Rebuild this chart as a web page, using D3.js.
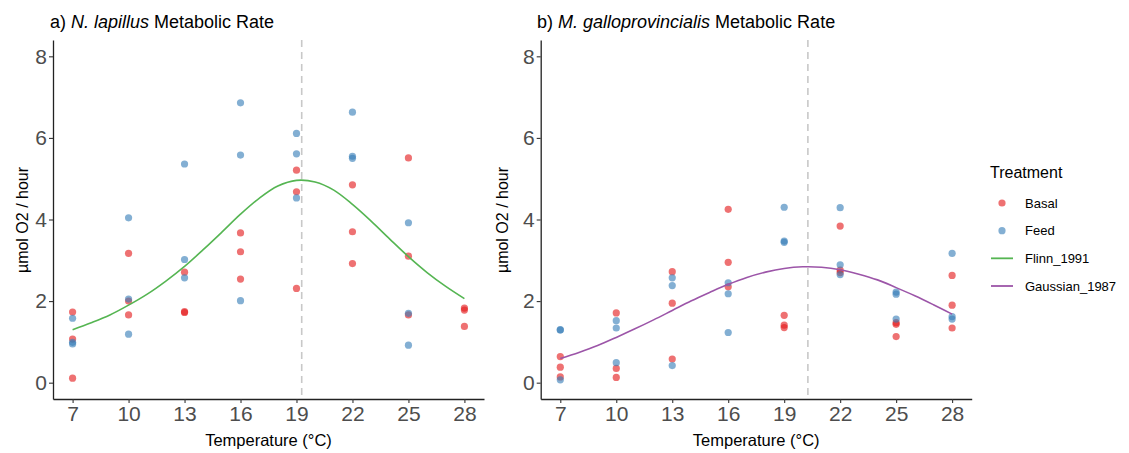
<!DOCTYPE html>
<html>
<head>
<meta charset="utf-8">
<script src="https://cdn.jsdelivr.net/npm/d3@7"></script>
<style>
  body { margin: 0; background: #fff; }
  svg { font-family: "Liberation Sans", Arial, sans-serif; }
</style>
</head>
<body>
<svg id="chart" width="1129" height="453"></svg>
<script>
// temperatures sampled in the experiment
const temps = [7, 10, 13, 16, 19, 22, 25, 28];
const tickTemps = [7, 10, 13, 16, 19, 22, 25, 28];
const yTicks = [0, 2, 4, 6, 8];

// N. lapillus replicates (µmol O2 / hour), one sub-array per temperature
const nlBasal = [[1.73, 1.07, 0.11], [3.17, 2.00, 1.66], [2.71, 1.74, 1.72], [3.67, 3.21, 2.54],
                 [5.21, 4.68, 2.31], [4.85, 3.70, 2.92], [5.51, 3.10, 1.66], [1.83, 1.78, 1.38]];
const nlFeed  = [[1.58, 0.99, 0.95], [4.04, 2.05, 1.19], [5.36, 3.02, 2.57], [6.86, 5.58, 2.01],
                 [6.11, 5.61, 4.53], [6.63, 5.55, 5.50], [3.92, 1.70, 0.92], []];

// M. galloprovincialis replicates
const mgBasal = [[0.64, 0.38, 0.14], [1.71, 0.35, 0.13], [2.72, 1.95, 0.58], [4.25, 2.95, 2.35],
                 [1.65, 1.41, 1.35], [3.84, 2.76, 2.70], [1.47, 1.43, 1.13], [2.63, 1.90, 1.34]];
const mgFeed  = [[1.30, 1.29, 0.07], [1.52, 1.34, 0.49], [2.57, 2.38, 0.42], [2.45, 2.18, 1.23],
                 [4.30, 3.47, 3.44], [4.29, 2.89, 2.65], [2.22, 2.17, 1.56], [3.17, 1.62, 1.56]];

// fitted curves, one value per degree
const fitTemps = [7, 8, 9, 10, 11, 12, 13, 14, 15, 16, 17, 18, 19, 20, 21, 22, 23, 24, 25, 26, 27, 28];
const flinnFit = [1.30, 1.47, 1.66, 1.90, 2.17, 2.49, 2.85, 3.26, 3.69, 4.13, 4.52, 4.82, 4.96, 4.92,
                  4.72, 4.37, 3.96, 3.52, 3.09, 2.70, 2.36, 2.06];
const gaussFit = [0.59, 0.74, 0.91, 1.11, 1.32, 1.54, 1.77, 2.00, 2.21, 2.41, 2.58, 2.71, 2.80, 2.84,
                  2.83, 2.77, 2.66, 2.52, 2.33, 2.13, 1.91, 1.68];

// optimum temperatures (dashed lines)
const optTemps = [19.28, 20.27];

const colors = { Basal: "#E41A1C", Feed: "#377EB8", Flinn_1991: "#55b552", Gaussian_1987: "#9c55a8" };

const svg = d3.select("#chart");

function flatten(values) {
  const out = [];
  values.forEach((reps, i) => reps.forEach((v) => out.push({ t: temps[i], v })));
  return out;
}

function drawPanel(opts) {
  const x = d3.scaleLinear().domain([5.95, 29.05]).range([opts.left, opts.left + 431]);
  const y = d3.scaleLinear().domain([-0.4, 8.4]).range([399, 40]);

  const g = svg.append("g");

  // dashed optimum line
  g.append("line")
    .attr("x1", x(opts.opt)).attr("x2", x(opts.opt))
    .attr("y1", y.range()[1]).attr("y2", y.range()[0])
    .attr("stroke", "#c8c8c8").attr("stroke-width", 1.6)
    .attr("stroke-dasharray", "7,5");

  // points
  const pts = flatten(opts.basal).map((d) => ({ ...d, k: "Basal" }))
    .concat(flatten(opts.feed).map((d) => ({ ...d, k: "Feed" })));
  g.selectAll("circle.pt")
    .data(pts)
    .join("circle")
    .attr("class", "pt")
    .attr("cx", (d) => x(d.t))
    .attr("cy", (d) => y(d.v))
    .attr("r", 3.6)
    .attr("fill", (d) => colors[d.k])
    .attr("fill-opacity", 0.62);

  // fitted curve
  const line = d3.line()
    .x((d, i) => x(fitTemps[i]))
    .y((d) => y(d))
    .curve(d3.curveCatmullRom);
  g.append("path")
    .attr("d", line(opts.fit))
    .attr("fill", "none")
    .attr("stroke", colors[opts.fitName])
    .attr("stroke-width", 1.6);

  // axes
  const xAxis = g.append("g")
    .attr("transform", "translate(0,399)")
    .call(d3.axisBottom(x).tickValues(tickTemps).tickSize(4).tickPadding(3).tickSizeOuter(0));
  const yAxis = g.append("g")
    .attr("transform", `translate(${opts.left},0)`)
    .call(d3.axisLeft(y).tickValues(yTicks).tickSize(4).tickPadding(2).tickSizeOuter(0));
  [xAxis, yAxis].forEach((a) => {
    a.select(".domain").attr("stroke", "#222").attr("stroke-width", 1.3);
    a.selectAll(".tick line").attr("stroke", "#333").attr("stroke-width", 1.1);
    a.selectAll(".tick text")
      .attr("fill", "#4d4d4d")
      .attr("font-size", 21)
      .attr("font-family", "Liberation Sans, Arial, sans-serif");
  });

  // axis titles
  g.append("text")
    .attr("x", opts.left + 215.5).attr("y", 446)
    .attr("text-anchor", "middle")
    .attr("font-size", 16.5)
    .text("Temperature (°C)");
  g.append("text")
    .attr("transform", `translate(${opts.ytitleX},220) rotate(-90)`)
    .attr("text-anchor", "middle")
    .attr("font-size", 16)
    .text("µmol O2 / hour");

  // panel title
  const title = g.append("text")
    .attr("x", opts.titleX).attr("y", 28)
    .attr("font-size", 18);
  title.append("tspan").text(opts.tag + " ");
  title.append("tspan").attr("font-style", "italic").text(opts.species);
  title.append("tspan").text(" Metabolic Rate");
}

drawPanel({ left: 53, opt: optTemps[0], basal: nlBasal, feed: nlFeed, fit: flinnFit,
  fitName: "Flinn_1991", ytitleX: 28, titleX: 50, tag: "a)", species: "N. lapillus" });
drawPanel({ left: 540.7, opt: optTemps[1], basal: mgBasal, feed: mgFeed, fit: gaussFit,
  fitName: "Gaussian_1987", ytitleX: 508, titleX: 537, tag: "b)", species: "M. galloprovincialis" });

// legend
const legend = svg.append("g");
legend.append("text").attr("x", 990).attr("y", 178).attr("font-size", 16).text("Treatment");
const keys = ["Basal", "Feed", "Flinn_1991", "Gaussian_1987"];
const keyY = d3.scalePoint().domain(keys).range([203, 286]);
keys.forEach((k, i) => {
  const cy = keyY(k);
  if (i < 2) {
    legend.append("circle").attr("cx", 1002).attr("cy", cy).attr("r", 3.6)
      .attr("fill", colors[k]).attr("fill-opacity", 0.62);
  } else {
    legend.append("line").attr("x1", 991).attr("x2", 1013).attr("y1", cy).attr("y2", cy)
      .attr("stroke", colors[k]).attr("stroke-width", 1.8);
  }
  legend.append("text").attr("x", 1025).attr("y", cy + 4.5).attr("font-size", 13).text(k);
});
</script>
</body>
</html>
